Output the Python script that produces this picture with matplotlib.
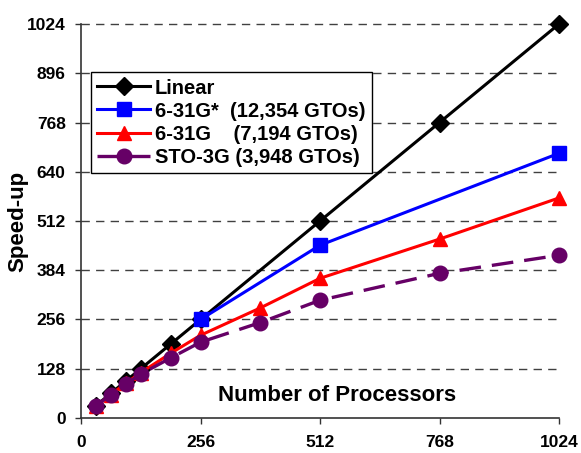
import matplotlib
matplotlib.use("Agg")
import matplotlib.pyplot as plt

plt.rcParams['font.family'] = ['Liberation Sans', 'DejaVu Sans']
plt.rcParams['font.weight'] = 'bold'

# processor counts for each series
linear_x = [32, 64, 96, 128, 192, 256, 512, 768, 1024]
linear_y = [32, 64, 96, 128, 192, 256, 512, 768, 1024]

g631s_x = [256, 512, 1024]
g631s_y = [256, 449, 688]

g631_x = [32, 64, 96, 128, 192, 256, 384, 512, 768, 1024]
g631_y = [30, 61, 90, 118, 168, 215, 286, 363, 465, 572]

sto_x = [32, 64, 96, 128, 192, 256, 384, 512, 768, 1024]
sto_y = [32, 60, 88, 114, 156, 197, 248, 306, 376, 423]

labels = ["Linear", "6-31G*  (12,354 GTOs)", "6-31G    (7,194 GTOs)", "STO-3G (3,948 GTOs)"]
xticks = [0, 256, 512, 768, 1024]
yticks = [0, 128, 256, 384, 512, 640, 768, 896, 1024]

fig = plt.figure(figsize=(5.81, 4.53), dpi=100)
ax = fig.add_axes([0.1394, 0.0773, 0.8228, 0.8697])

# dashed horizontal grid (not at zero)
for yv in yticks[1:]:
    ax.axhline(yv, color="#404040", lw=1, dashes=(6, 4.5), zorder=1)

ax.plot(linear_x, linear_y, color="black", lw=2.2, marker="D", ms=9, label=labels[0], zorder=3)
ax.plot(g631s_x, g631s_y, color="#0000ff", lw=2.2, marker="s", ms=10, label=labels[1], zorder=4)
ax.plot(g631_x, g631_y, color="#ff0000", lw=2.2, marker="^", ms=10, label=labels[2], zorder=4)
ax.plot(sto_x, sto_y, color="#660066", lw=2.4, marker="o", ms=10.5, dashes=(6.5, 3.3),
        label=labels[3], zorder=5)

ax.set_xlim(0, 1024)
ax.set_ylim(0, 1024)
ax.set_xticks(xticks)
ax.set_yticks(yticks)
ax.tick_params(axis="both", direction="out", length=4, width=1, color="#333333", labelsize=12.5)
ax.tick_params(axis="x", pad=8)
ax.tick_params(axis="y", pad=7)

for s in ["top", "right"]:
    ax.spines[s].set_visible(False)
for s in ["left", "bottom"]:
    ax.spines[s].set_color("#333333")
    ax.spines[s].set_linewidth(1.2)
for ln in ax.lines:
    ln.set_clip_on(False)

ax.set_xlabel("Number of Processors", fontsize=16, fontweight="bold")
ax.xaxis.label.set_va("center")
ax.xaxis.set_label_coords(0.536, 0.058)
ax.set_ylabel("Speed-up", fontsize=16, fontweight="bold")
ax.yaxis.set_label_coords(-0.111, 0.5)

leg = ax.legend(loc="upper left", bbox_to_anchor=(0.021, 0.878), fontsize=14.5,
                frameon=True, fancybox=False, edgecolor="black", framealpha=1,
                handlelength=2.6, handletextpad=0.25, borderpad=0.32, labelspacing=0.2,
                borderaxespad=0)
leg.get_frame().set_linewidth(1)
leg.set_zorder(10)

fig.savefig("out.png", dpi=100)
